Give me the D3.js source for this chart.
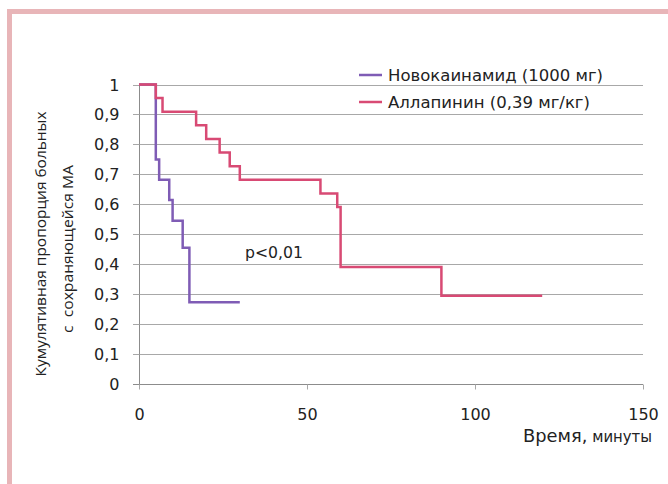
<!DOCTYPE html>
<html><head><meta charset="utf-8">
<script src="https://cdn.jsdelivr.net/npm/d3@7"></script>
<style>body{margin:0;background:#fff}svg{display:block}</style>
</head><body>
<script>
// Data
const novoTimes = [0, 5, 6, 9, 10, 13, 15, 30];
const novoValues = [1, 0.75, 0.682, 0.614, 0.545, 0.455, 0.273, 0.273];
const allaTimes = [0, 5, 7, 17, 20, 24, 27, 30, 54, 59, 60, 90, 120];
const allaValues = [1, 0.955, 0.909, 0.864, 0.818, 0.773, 0.727, 0.682, 0.636, 0.591, 0.391, 0.295, 0.295];
const seriesNames = ["Новокаинамид (1000 мг)", "Аллапинин (0,39 мг/кг)"];
const yTicks = [0, 0.1, 0.2, 0.3, 0.4, 0.5, 0.6, 0.7, 0.8, 0.9, 1];
const yTickLabels = ["0", "0,1", "0,2", "0,3", "0,4", "0,5", "0,6", "0,7", "0,8", "0,9", "1"];
const xTicks = [0, 50, 100, 150];
const yLabelLines = ["Кумулятивная пропорция больных", "с  сохраняющейся МА"];
const xLabelMain = "Время,";
const xLabelSub = " минуты";
const pText = "p<0,01";

const W = 668, H = 484;
const svg = d3.select("body").append("svg").attr("width", W).attr("height", H);
const font = "'DejaVu Sans', Verdana, sans-serif";
const font2 = "'Open Sans', 'DejaVu Sans', sans-serif";

// frame
svg.append("rect").attr("x", 9.5).attr("y", 11.5).attr("width", 720).attr("height", 520)
  .attr("fill", "none").attr("stroke", "#e8b5b8").attr("stroke-width", 5);

const x = d3.scaleLinear().domain([0, 150]).range([139, 643]);
const y = d3.scaleLinear().domain([0, 1]).range([384, 84.5]);

// gridlines
svg.append("g").selectAll("line").data(yTicks.filter(d => d > 0)).join("line")
  .attr("x1", 133).attr("x2", 643)
  .attr("y1", d => Math.round(y(d)) + 0.5).attr("y2", d => Math.round(y(d)) + 0.5)
  .attr("stroke", "#a8a8a8").attr("stroke-width", 1);

// y axis
const yAxis = svg.append("g").attr("transform", "translate(139.5,0)")
  .call(d3.axisLeft(y).tickValues(yTicks).tickSize(6).tickFormat((d, i) => yTickLabels[i]));
yAxis.select(".domain").attr("stroke", "#8c8c8c").attr("d", `M0,${y(1)}V${y(0)}`);
yAxis.selectAll(".tick line").attr("stroke", "#a8a8a8");
yAxis.selectAll(".tick text").attr("x", -20).attr("dy", "0.36em").attr("font-size", 16)
  .attr("font-family", font).attr("fill", "#222");
yAxis.selectAll(".tick").attr("transform", d => `translate(0,${Math.round(y(d)) + 0.5})`);

// x axis
const xAxis = svg.append("g").attr("transform", "translate(0,384.5)")
  .call(d3.axisBottom(x).tickValues(xTicks).tickSize(5).tickFormat(d3.format("d")));
xAxis.select(".domain").attr("stroke", "#8c8c8c").attr("d", `M133,0H643`);
xAxis.selectAll(".tick line").attr("stroke", "#a8a8a8");
xAxis.selectAll(".tick text").attr("y", 35).attr("dy", 0).attr("font-size", 16)
  .attr("font-family", font).attr("fill", "#222");

// lines
const mk = (ts, vs) => ts.map((t, i) => [t, vs[i]]);
const line = d3.line().x(d => x(d[0])).y(d => y(d[1])).curve(d3.curveStepAfter);
const colors = ["#7f5cb5", "#d84a74"];
svg.append("path").attr("d", line(mk(novoTimes, novoValues))).attr("fill", "none")
  .attr("stroke", colors[0]).attr("stroke-width", 2.5);
svg.append("path").attr("d", line(mk(allaTimes, allaValues))).attr("fill", "none")
  .attr("stroke", colors[1]).attr("stroke-width", 2.5);

// legend
const legY = [75, 102];
const legW = [215, 202];
seriesNames.forEach((n, i) => {
  svg.append("line").attr("x1", 359).attr("x2", 382).attr("y1", legY[i]).attr("y2", legY[i])
    .attr("stroke", colors[i]).attr("stroke-width", 2.5);
  svg.append("text").attr("x", 388).attr("y", legY[i] + 6).attr("font-size", 16.5)
    .attr("font-family", font).attr("fill", "#222")
    .attr("textLength", legW[i]).attr("lengthAdjust", "spacingAndGlyphs").text(n);
});

// p-value
svg.append("text").attr("x", 245).attr("y", 258).attr("font-size", 16).attr("font-family", font)
  .attr("fill", "#222").attr("textLength", 58).attr("lengthAdjust", "spacingAndGlyphs").text(pText);

// y label
const yl = [[46, 244, 265], [73, 249, 168]];
yLabelLines.forEach((t, i) => {
  svg.append("text").attr("transform", `translate(${yl[i][0]},${yl[i][1]}) rotate(-90)`)
    .attr("text-anchor", "middle").attr("font-size", 14).attr("font-family", font2).attr("fill", "#222")
    .attr("textLength", yl[i][2]).attr("lengthAdjust", "spacingAndGlyphs")
    .attr("xml:space", "preserve").style("white-space", "pre").text(t);
});

// x label
const xl = svg.append("text").attr("x", 523).attr("y", 441.5)
  .attr("font-family", font).attr("fill", "#222")
  .attr("textLength", 129).attr("lengthAdjust", "spacingAndGlyphs");
xl.append("tspan").attr("font-size", 18).text(xLabelMain);
xl.append("tspan").attr("font-size", 15).text(xLabelSub);
</script>
</body></html>
